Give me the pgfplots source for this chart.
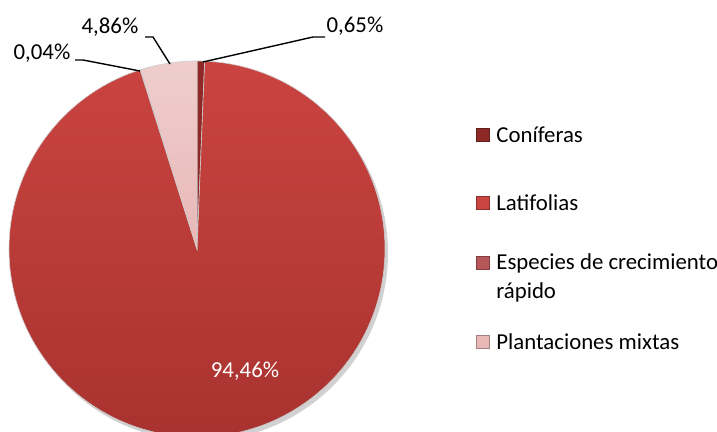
\documentclass[border=0pt]{standalone}
\usepackage{pgfplots}
\pgfplotsset{compat=1.18}
\usepackage{pgfplotstable}
\usepackage{fontspec}
\setmainfont{Carlito}

\definecolor{coni}{HTML}{8E2927}
\definecolor{lati}{HTML}{CA4440}
\definecolor{latid}{HTML}{A8322F}
\definecolor{espe}{HTML}{B8575A}
\definecolor{mixt}{HTML}{E8B8B7}

% share of each type, in %, clockwise from 12 o'clock
\pgfplotstableread{
idx value
0 0.65
1 94.46
2 0.04
3 4.86
}\piedata

\tikzset{
  s0/.style={fill=coni},
  s1/.style={top color=lati, bottom color=latid},
  s2/.style={fill=espe},
  s3/.style={top color=mixt!70!white, bottom color=mixt},
}

\begin{document}
\begin{tikzpicture}[font=\fontsize{11.4}{13}\selectfont]
\begin{axis}[
  hide axis, scale only axis,
  x=0.5pt, y=0.5pt,
  xmin=0, xmax=717, ymin=0, ymax=432,
  y dir=reverse,
]
\pgfplotsextra{
  % soft shadow
  \fill[black, opacity=0.18] (axis cs:200,253) circle[radius=94pt];
  \gdef\cum{0}
  \foreach \i in {0,1,2,3}{
    \pgfplotstablegetelem{\i}{value}\of\piedata
    \pgfmathsetmacro\a{90-3.6*\cum}
    \pgfmathsetmacro\b{90-3.6*(\cum+\pgfplotsretval)}
    \path[s\i, draw=black!20, line width=0.3pt] (axis cs:197,249) -- ++(\a:94pt)
      arc[start angle=\a, end angle=\b, radius=94pt] -- cycle;
    \pgfmathsetmacro\c{\cum+\pgfplotsretval}
    \xdef\cum{\c}
  }
  % legend markers
  \foreach \y/\s in {135/coni,203/lati,263/espe,342/mixt}{
    \fill[\s, draw=\s!70!black, line width=0.4pt]
      (axis cs:476,\y-6.5) rectangle (axis cs:489,\y+6.5);
  }
}
% leader lines and labels
\draw[line width=0.7pt] (axis cs:203,62) -- (axis cs:313,37) -- (axis cs:325,37);
\draw[line width=0.7pt] (axis cs:170,64) -- (axis cs:153,37) -- (axis cs:145,37);
\draw[line width=0.7pt] (axis cs:140,71) -- (axis cs:83,60) -- (axis cs:75,60);
\node at (axis cs:355,26) {0,65\%};
\node at (axis cs:110,27) {4,86\%};
\node at (axis cs:42,53) {0,04\%};
\node[white] at (axis cs:245,371) {94,46\%};
% legend
\node[anchor=west, inner sep=0pt] at (axis cs:496,135) {Coníferas};
\node[anchor=west, inner sep=0pt] at (axis cs:496,203) {Latifolias};
\node[anchor=west, inner sep=0pt] at (axis cs:496,263) {Especies de crecimiento};
\node[anchor=west, inner sep=0pt] at (axis cs:496,292) {rápido};
\node[anchor=west, inner sep=0pt] at (axis cs:496,342) {Plantaciones mixtas};
\end{axis}
\pgfresetboundingbox
\path[use as bounding box] (current axis.south west) rectangle (current axis.north east);
\end{tikzpicture}
\end{document}
